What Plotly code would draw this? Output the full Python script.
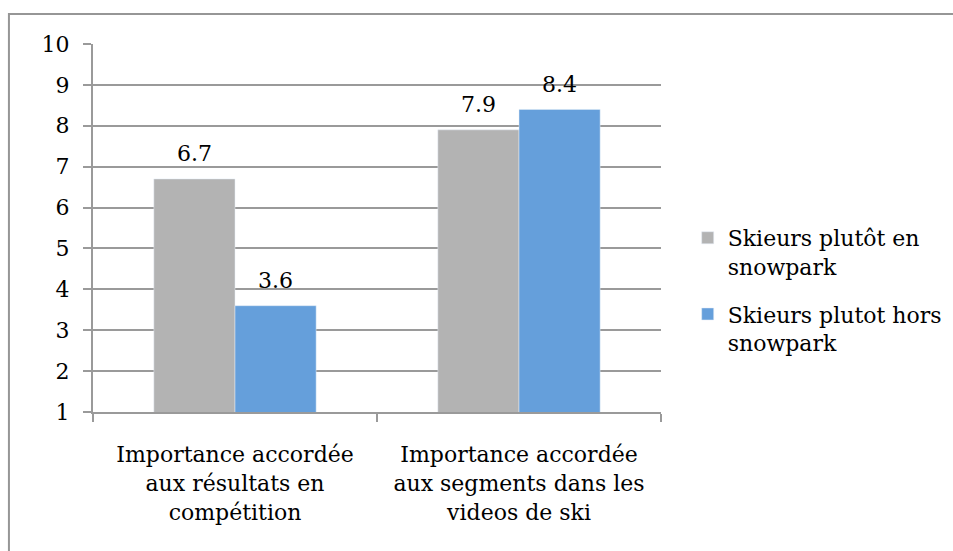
import plotly.graph_objects as go

# --- data ---
categories = [
    "Importance accordée<br>aux résultats en<br>compétition",
    "Importance accordée<br>aux segments dans les<br>videos de ski",
]
snowpark = [6.7, 7.9]
hors_snowpark = [3.6, 8.4]
series_names = ["Skieurs plutôt en<br>snowpark", "Skieurs plutot hors<br>snowpark"]
y_ticks = list(range(1, 11))

COLORS = {"gray": "#B3B3B3", "blue": "#659FDB", "grid": "#9A9A9A"}
FONT = dict(family="DejaVu Serif", size=22, color="#000000")

fig = go.Figure()
fig.add_trace(go.Bar(x=categories, y=snowpark, name=series_names[0], marker_color=COLORS["gray"],
                     legendgroup="a"))
fig.add_trace(go.Bar(x=categories, y=hors_snowpark, name=series_names[1], marker_color=COLORS["blue"],
                     legendgroup="b"))

# value labels above each bar
for vals, shift in [(snowpark, -40.5), (hors_snowpark, 40.5)]:
    for cat, v in zip(categories, vals):
        fig.add_annotation(x=cat, y=v, text=f"{v:.1f}", showarrow=False, xshift=shift,
                           yshift=25, yanchor="middle", font=FONT)

# chart border (Excel style, cropped on right/bottom)
fig.add_shape(type="rect", xref="paper", yref="paper", x0=-0.148, x1=1.53, y0=-0.41, y1=1.0815,
              line=dict(color="#969696", width=2), layer="below")

fig.update_layout(
    width=953, height=551,
    margin=dict(l=93, r=292, t=44, b=139, autoexpand=False),
    plot_bgcolor="white", paper_bgcolor="white",
    font=FONT,
    barmode="group", bargap=0.4286, bargroupgap=0,
    legend=dict(x=1.047, y=0.53, xanchor="left", yanchor="top", valign="top",
                traceorder="grouped", tracegroupgap=16,
                font=FONT, bgcolor="rgba(0,0,0,0)"),
    showlegend=True,
)
fig.update_yaxes(range=[1, 10], tickvals=y_ticks, showgrid=True, gridcolor=COLORS["grid"], gridwidth=2,
                 showline=True, linecolor=COLORS["grid"], linewidth=2, ticks="outside", ticklen=8,
                 tickcolor=COLORS["grid"], tickwidth=2, ticklabelstandoff=9, zeroline=False)
fig.update_xaxes(type="category", showgrid=False, showline=True, linecolor=COLORS["grid"], linewidth=2,
                 ticks="outside", tickson="boundaries", ticklen=8, tickcolor=COLORS["grid"], tickwidth=2,
                 ticklabelstandoff=22)

fig.write_html("out.html", config={"displayModeBar": False},
               post_script="document.body.style.margin='0';")
